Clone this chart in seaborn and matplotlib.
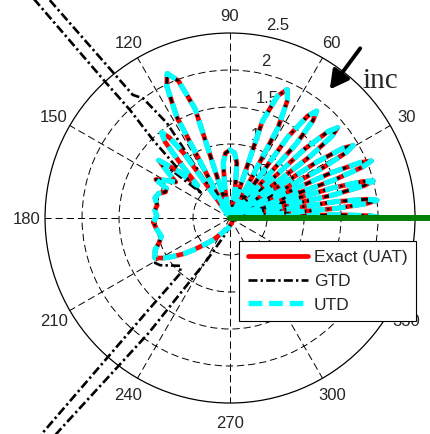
import numpy as np
import matplotlib
matplotlib.use('Agg')
import matplotlib.pyplot as plt
import matplotlib.transforms as mtransforms
import seaborn as sns

# field pattern: angle (deg) and magnitude
theta_exact = [0, 0.9, 1.75, 3.5, 5.2, 6.05, 6.9, 7.85, 8.8, 10.7,
               12.6, 13.55, 14.5, 15.4, 16.35, 18.2,
               20.1, 21.05, 22, 23.05, 24.1, 26.2,
               28.35, 29.4, 30.5, 31.7, 32.85, 35.2,
               37.6, 38.8, 40, 41.4, 42.75, 45.5,
               48.25, 49.6, 51, 52.75, 54.5, 58,
               62, 64, 66, 68.75, 71.5, 77,
               80, 83, 86, 90, 94, 97, 100, 102,
               107.75, 110.6, 113.5, 115.6, 117.75, 122,
               125.35, 127, 128.7, 130.5, 132.5, 135, 138, 141, 143.5, 146.5,
               149.5, 152.5, 155, 158, 161, 165, 170, 174, 178.5, 183,
               189, 195, 199.5, 203, 208, 211, 214, 218, 221, 226,
               232, 240, 250, 259, 270, 290, 320, 360]
r_exact = [2.05, 1.9, 1.45, 0.05, 1.45, 1.86, 2.0, 1.86, 1.45, 0.05,
           1.45, 1.86, 2.0, 1.86, 1.45, 0.05,
           1.5, 1.92, 2.06, 1.92, 1.5, 0.05,
           1.4, 1.8, 1.93, 1.8, 1.4, 0.05,
           1.38, 1.77, 1.9, 1.77, 1.38, 0.05,
           1.35, 1.73, 1.86, 1.73, 1.35, 0.05,
           1.38, 1.77, 1.9, 1.77, 1.38, 0.05,
           0.4, 0.75, 0.88, 0.92, 0.88, 0.75, 0.4, 0.05,
           1.55, 1.98, 2.13, 1.98, 1.55, 0.05,
           1.05, 1.36, 1.48, 1.35, 0.95, 0.62, 0.95, 1.24, 1.05, 0.88,
           1.0, 1.13, 0.95, 0.94, 1.02, 1.05, 1.0, 1.02, 0.99, 1.04,
           1.0, 0.96, 1.02, 1.10, 1.15, 1.05, 0.93, 0.78, 0.66, 0.5,
           0.38, 0.25, 0.17, 0.14, 0.1, 0.07, 0.05, 0.04]

# UTD lies on top of the exact curve
theta_utd = theta_exact
r_utd = r_exact

# GTD blows up at the reflection and incidence shadow boundaries
gtd_rsb_theta = [123.7, 123.6, 126.0, 128.3, 128.7, 129.55, 130.0, 130.2,
                 131.45, 131.9, 132.5, 132.8, 134.6, 137.0, 139.0]
gtd_rsb_r = [1.05, 1.54, 2.0, 2.12, 2.45, 3.69, 5.0, 6.0,
             6.0, 3.76, 2.5, 1.99, 1.48, 0.9, 0.5]
gtd_isb_theta = [211, 214, 219, 224, 228.1, 228.4, 228.9, 229.0,
                 230.4, 231.2, 234.7, 241.2, 252, 262]
gtd_isb_r = [1.18, 1.14, 1.02, 0.93, 1.01, 1.66, 3.8, 6.0,
             6.0, 3.7, 1.91, 0.65, 0.25, 0.15]

# wedge face (half plane along 0 deg)
wedge_theta = [0, 0]
wedge_r = [0, 3.0]

ring_ticks = [0.5, 1, 1.5, 2, 2.5]
ring_labels = ['0.5', '1', '1.5', '2', '2.5']
angle_ticks = list(range(0, 360, 30))
# the 0 label falls off the right edge in the original, so it is left out
angle_labels = ['', '30', '60', '90', '120', '150', '180', '210', '240',
                '270', '300', '330']

# incidence arrow (deg, r) tail -> head
inc_tail = (52.5, 2.89)
inc_head = (52.2, 2.2)


def pick(lo, hi):
    pairs = [(t, r) for t, r in zip(theta_exact, r_exact) if lo <= t <= hi]
    return [p[0] for p in pairs], [p[1] for p in pairs]


t1, r1 = pick(0, 122)
t2, r2 = pick(141, 208)
t3, r3 = pick(270, 360)
theta_gtd = t1 + gtd_rsb_theta + t2 + gtd_isb_theta + t3
r_gtd = r1 + gtd_rsb_r + r2 + gtd_isb_r + r3

sns.set_style('white')
plt.rcParams['font.family'] = ['Liberation Sans', 'DejaVu Sans']

fig = plt.figure(figsize=(4.3, 4.34), dpi=100)
ax = fig.add_axes([0.1047, 0.0714, 0.8605, 0.8525], projection='polar')

sns.lineplot(x=np.deg2rad(theta_exact), y=r_exact, ax=ax, sort=False, estimator=None,
             color='red', linewidth=3.4, label='Exact (UAT)', zorder=3, clip_on=False)
sns.lineplot(x=np.deg2rad(theta_gtd), y=r_gtd, ax=ax, sort=False, estimator=None,
             color='black', linewidth=1.9, linestyle=(0, (3.4, 1.2, 0.9, 1.2)),
             label='GTD', zorder=4, clip_on=False)
sns.lineplot(x=np.deg2rad(theta_utd), y=r_utd, ax=ax, sort=False, estimator=None,
             color='#00ffff', linewidth=3.8, linestyle=(0, (2.6, 1.3)),
             label='UTD', zorder=5, clip_on=False)
sns.lineplot(x=np.deg2rad(wedge_theta), y=wedge_r, ax=ax, sort=False, estimator=None,
             color=(0, 0.5, 0), linewidth=4.3, zorder=6, clip_on=False)

# MATLAB-style polar grid
ax.set_rticks(ring_ticks[:-1])
ax.set_yticklabels([])
ax.set_thetagrids(angle_ticks, labels=[''] * len(angle_ticks))
ax.set_rlim(0, 2.5)
ax.grid(True, color='black', linewidth=0.7, linestyle=(0, (7.5, 4)))
ax.spines['polar'].set_linewidth(0.9)
ax.spines['polar'].set_color('black')
ax.set_xlabel('')
ax.set_ylabel('')

for a, lab in zip(angle_ticks, angle_labels):
    if lab:
        ax.text(np.deg2rad(a), 2.75, lab, ha='center', va='center_baseline',
                fontsize=12, zorder=1, clip_on=False)

ring_offset = mtransforms.offset_copy(ax.transData, fig=fig, x=10, y=11, units='dots')
for v, lab in zip(ring_ticks, ring_labels):
    ax.text(np.deg2rad(82), v, lab, transform=ring_offset, ha='left',
            va='center_baseline', fontsize=12, zorder=1, clip_on=False)

ax.annotate('', xy=(np.deg2rad(inc_head[0]), inc_head[1]),
            xytext=(np.deg2rad(inc_tail[0]), inc_tail[1]),
            arrowprops=dict(arrowstyle='-|>,head_length=0.55,head_width=0.3',
                            color='black', lw=2.8, mutation_scale=20,
                            shrinkA=0, shrinkB=0),
            annotation_clip=False, zorder=7)
ax.text(np.deg2rad(40.85), 2.68, 'inc', family=['Liberation Serif', 'DejaVu Serif'],
        fontsize=21, ha='center', va='baseline', clip_on=False)

leg = ax.legend(loc='upper left', bbox_to_anchor=(239 / 430, 1 - 241 / 434),
                bbox_transform=fig.transFigure, frameon=True, fancybox=False,
                shadow=False, edgecolor='black', framealpha=1, fontsize=12.5,
                handlelength=3.5, handletextpad=0.3, borderpad=0.5,
                labelspacing=0.5, borderaxespad=0)
leg.get_frame().set_linewidth(0.8)
leg.set_zorder(10)

fig.savefig('out.png', dpi=100)
